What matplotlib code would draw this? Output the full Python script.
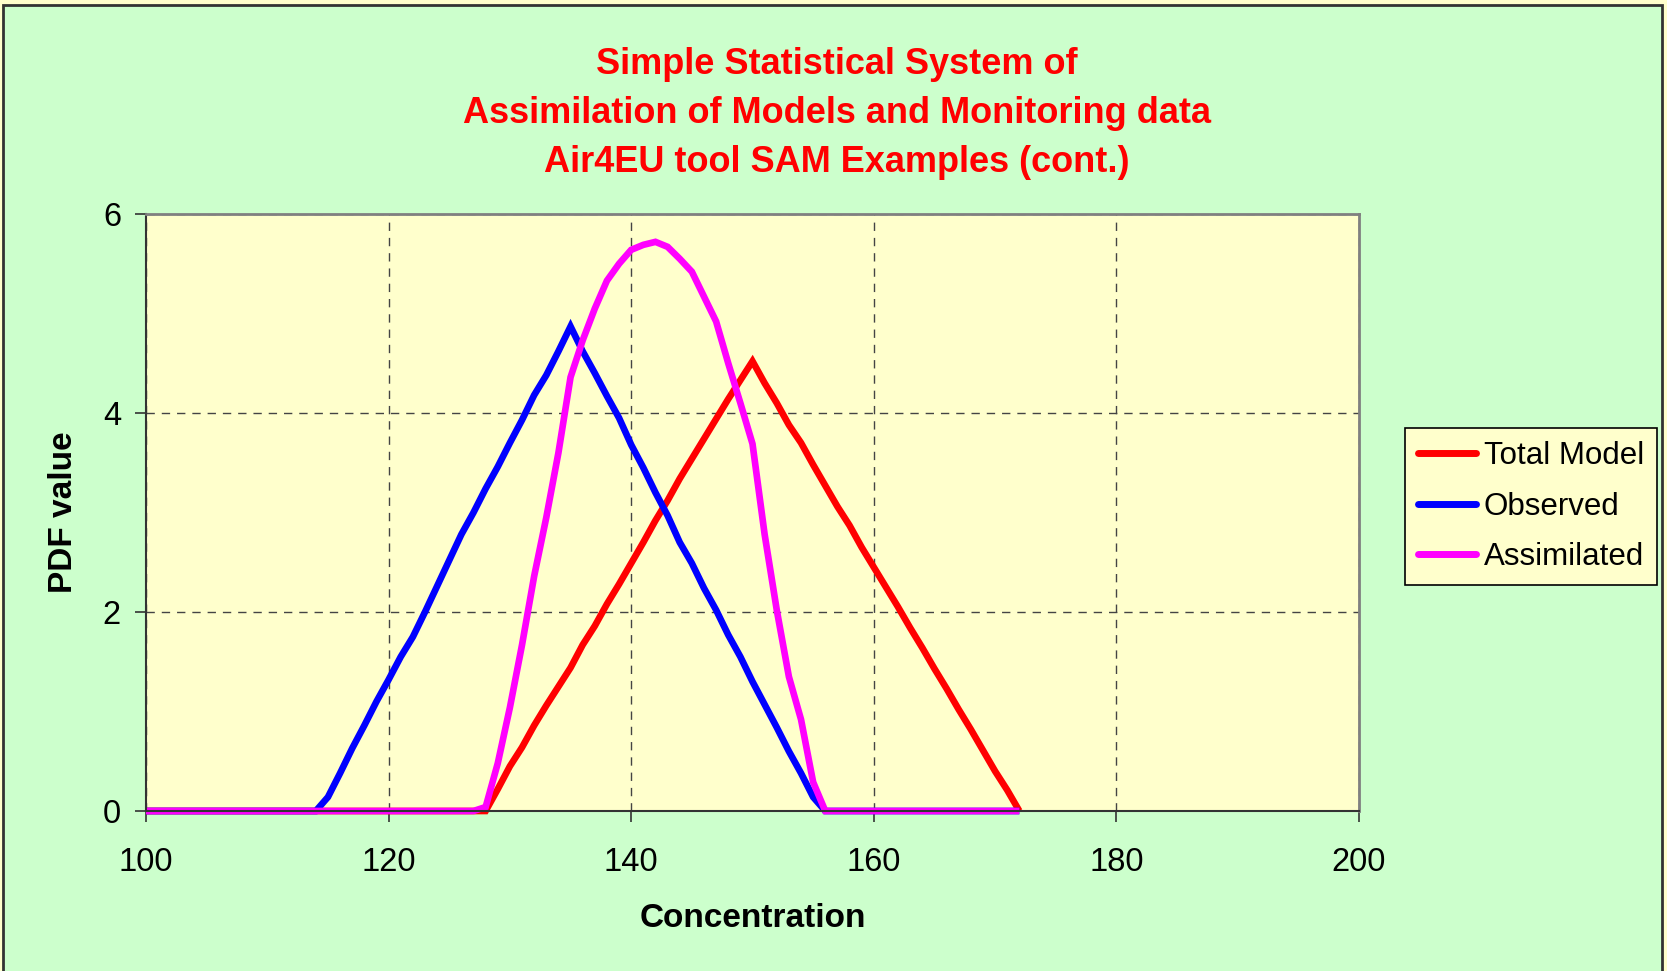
import numpy as np
import matplotlib
matplotlib.use("Agg")
import matplotlib.pyplot as plt
from matplotlib.patches import Rectangle

plt.rcParams['font.family'] = ['Liberation Sans', 'DejaVu Sans']

# ---------------- data ----------------
concentration = list(range(100, 173))  # 100 .. 172

total_model = [0.0] * 28 + [  # 100..127
    0.00, 0.22, 0.45, 0.64, 0.86, 1.06, 1.25, 1.44, 1.67, 1.86,  # 128..137
    2.08, 2.28, 2.49, 2.70, 2.92, 3.12, 3.34, 3.54, 3.74, 3.94,  # 138..147
    4.14, 4.33, 4.52, 4.30, 4.10, 3.88, 3.70, 3.48, 3.27, 3.06,  # 148..157
    2.87, 2.65, 2.45, 2.25, 2.05, 1.84, 1.64, 1.43, 1.23, 1.02,  # 158..167
    0.82, 0.61, 0.40, 0.21, 0.00]                                # 168..172

observed = [0.0] * 14 + [  # 100..113
    0.00, 0.14, 0.38, 0.63, 0.86, 1.10, 1.32, 1.55, 1.75, 2.00,  # 114..123
    2.26, 2.52, 2.78, 3.00, 3.24, 3.46, 3.70, 3.93, 4.18, 4.38,  # 124..133
    4.62, 4.87, 4.62, 4.40, 4.17, 3.95, 3.68, 3.45, 3.20, 2.97,  # 134..143
    2.70, 2.49, 2.24, 2.02, 1.77, 1.55, 1.30, 1.07, 0.84, 0.60,  # 144..153
    0.38, 0.14, 0.00] + [0.0] * 16                               # 154..156, 157..172

assimilated = [0.0] * 28 + [  # 100..127
    0.04, 0.48, 1.04, 1.67, 2.36, 2.95, 3.60, 4.36, 4.73, 5.05,  # 128..137
    5.33, 5.50, 5.64, 5.69, 5.72, 5.67, 5.55, 5.42, 5.17, 4.92,  # 138..147
    4.50, 4.10, 3.69, 2.78, 2.02, 1.35, 0.92, 0.29, 0.00] + [0.0] * 16  # 148..156, 157..172

series_names = ["Total Model", "Observed", "Assimilated"]
series_colors = ["#FF0000", "#0000FF", "#FF00FF"]

title_lines = ["Simple Statistical System of",
               "Assimilation of Models and Monitoring data",
               "Air4EU tool SAM Examples (cont.)"]
x_ticks = [100, 120, 140, 160, 180, 200]
y_ticks = [0, 2, 4, 6]

# ---------------- figure ----------------
W, H = 1667, 971
fig = plt.figure(figsize=(W / 100, H / 100), dpi=100)
fig.patch.set_facecolor("#FFFFCC")

# green chart area with dark border (behind everything)
border = Rectangle((3 / W, -0.01), (1662 - 3) / W, 1 - 5 / H + 0.01,
                   transform=fig.transFigure, facecolor="#CCFFCC",
                   edgecolor="#333333", linewidth=2, zorder=-10)
fig.add_artist(border)

L, R, T, B = 146, 1359, 214, 811
ax = fig.add_axes([L / W, 1 - B / H, (R - L) / W, (B - T) / H])
ax.set_zorder(1)
ax.set_facecolor("#FFFFCC")

for vals, name, col in zip([total_model, observed, assimilated], series_names, series_colors):
    ax.plot(concentration, vals, color=col, lw=4.8, label=name,
            solid_joinstyle='miter', solid_capstyle='butt', clip_on=False)

ax.set_xlim(100, 200)
ax.set_ylim(0, 6)
ax.set_xticks(x_ticks)
ax.set_yticks(y_ticks)
ax.tick_params(axis='x', labelsize=23.5, length=8, width=1.2, pad=18, color="#333333")
ax.tick_params(axis='y', labelsize=23.5, length=8, width=1.2, pad=10, color="#333333")
ax.grid(True, color="#444444", linestyle=(0, (6, 5)), linewidth=1.0)
ax.set_axisbelow(True)

for side in ['top', 'right']:
    ax.spines[side].set_color("#808080")
    ax.spines[side].set_linewidth(2)
for side in ['left', 'bottom']:
    ax.spines[side].set_color("#333333")
    ax.spines[side].set_linewidth(1.5)

ax.set_xlabel("Concentration", fontsize=24, fontweight='bold', va='center')
ax.xaxis.set_label_coords(0.5, -(918 - B) / (B - T))
ax.set_ylabel("PDF value", fontsize=24, fontweight='bold', va='center')
ax.yaxis.set_label_coords(-(L - 64) / (R - L), 0.5)

baselines = [74, 123, 172]
for line, yb in zip(title_lines, baselines):
    fig.text(837 / W, 1 - yb / H, line, color="#FF0000", fontsize=26,
             fontweight='bold', ha='center', va='baseline')

leg = fig.legend(loc='upper left', bbox_to_anchor=(1405 / W, 1 - 428 / H),
                 fontsize=22.5, frameon=True, fancybox=False, shadow=False,
                 handlelength=1.85, handletextpad=0.25, labelspacing=0.66,
                 borderpad=0.42, borderaxespad=0)
leg.set_zorder(5)
leg.get_frame().set_facecolor("#FFFFCC")
leg.get_frame().set_edgecolor("#000000")
leg.get_frame().set_linewidth(1.2)
leg.get_frame().set_alpha(1)
for h in leg.get_lines():
    h.set_linewidth(5)
    h.set_solid_capstyle('round')

fig.savefig("out.png", dpi=100, facecolor=fig.get_facecolor())
